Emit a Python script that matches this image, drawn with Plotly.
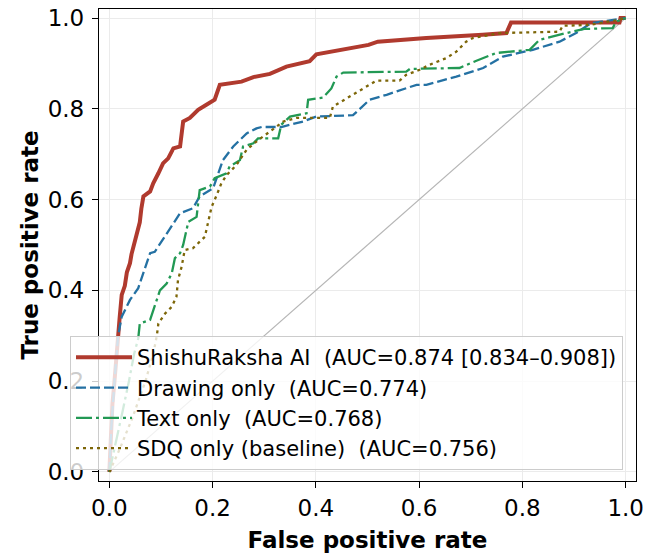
import plotly.graph_objects as go

# ---- data ----
ai_fpr = [0, 0.002, 0.004, 0.006, 0.010, 0.013, 0.017, 0.020, 0.024, 0.030, 0.034, 0.040, 0.043, 0.050,
          0.055, 0.059, 0.062, 0.066, 0.079, 0.085, 0.095, 0.104, 0.114, 0.124, 0.137, 0.143, 0.156,
          0.172, 0.188, 0.204, 0.214, 0.256, 0.279, 0.311, 0.343, 0.388, 0.401, 0.446, 0.502, 0.520,
          0.614, 0.723, 0.769, 0.778, 0.988, 0.990, 1.0]
ai_tpr = [0, 0.05, 0.10, 0.15, 0.20, 0.25, 0.29, 0.34, 0.39, 0.41, 0.44, 0.46, 0.48, 0.51,
          0.53, 0.55, 0.58, 0.607, 0.618, 0.636, 0.658, 0.68, 0.691, 0.713, 0.717, 0.772, 0.78,
          0.798, 0.809, 0.82, 0.853, 0.86, 0.87, 0.877, 0.893, 0.905, 0.92, 0.93, 0.941, 0.948,
          0.956, 0.963, 0.967, 0.99, 0.99, 1.0, 1.0]

draw_fpr = [0, 0.004, 0.010, 0.015, 0.017, 0.024, 0.040, 0.056, 0.079, 0.088, 0.111, 0.137, 0.162,
            0.175, 0.201, 0.220, 0.240, 0.266, 0.285, 0.295, 0.333, 0.375, 0.401, 0.472, 0.504,
            0.537, 0.595, 0.614, 0.672, 0.724, 0.762, 0.820, 0.872, 0.904, 0.933, 0.981, 1.0]
draw_tpr = [0, 0.10, 0.20, 0.27, 0.30, 0.342, 0.379, 0.405, 0.482, 0.485, 0.526, 0.57, 0.581,
            0.607, 0.625, 0.687, 0.717, 0.746, 0.757, 0.76, 0.76, 0.772, 0.783, 0.786, 0.82,
            0.831, 0.853, 0.853, 0.871, 0.89, 0.915, 0.93, 0.948, 0.967, 0.989, 0.996, 1.0]

text_fpr = [0, 0.012, 0.025, 0.038, 0.048, 0.056, 0.059, 0.079, 0.085, 0.098, 0.111, 0.121, 0.127,
            0.137, 0.143, 0.150, 0.153, 0.169, 0.172, 0.175, 0.195, 0.204, 0.227, 0.233, 0.253,
            0.259, 0.279, 0.288, 0.327, 0.333, 0.350, 0.382, 0.385, 0.414, 0.430, 0.440, 0.453,
            0.575, 0.582, 0.678, 0.711, 0.749, 0.814, 0.833, 0.885, 0.920, 0.975, 0.981, 1.0]
text_tpr = [0, 0.06, 0.13, 0.20, 0.26, 0.294, 0.327, 0.335, 0.357, 0.40, 0.415, 0.438, 0.471,
            0.482, 0.50, 0.533, 0.551, 0.562, 0.595, 0.621, 0.629, 0.647, 0.658, 0.673, 0.687,
            0.717, 0.724, 0.735, 0.735, 0.765, 0.783, 0.79, 0.82, 0.825, 0.845, 0.871, 0.88,
            0.882, 0.888, 0.89, 0.906, 0.923, 0.93, 0.952, 0.967, 0.976, 0.978, 0.992, 1.0]

sdq_fpr = [0, 0.020, 0.045, 0.070, 0.085, 0.092, 0.095, 0.108, 0.121, 0.130, 0.133, 0.140, 0.146,
           0.162, 0.185, 0.191, 0.198, 0.208, 0.217, 0.227, 0.246, 0.266, 0.288, 0.311, 0.337,
           0.362, 0.427, 0.433, 0.466, 0.498, 0.517, 0.562, 0.575, 0.601, 0.620, 0.653, 0.672,
           0.691, 0.704, 0.756, 0.872, 0.878, 0.930, 0.981, 1.0]
sdq_tpr = [0, 0.05, 0.12, 0.20, 0.26, 0.30, 0.327, 0.349, 0.364, 0.386, 0.423, 0.452, 0.489,
           0.493, 0.518, 0.548, 0.584, 0.61, 0.636, 0.654, 0.676, 0.71, 0.731, 0.75, 0.772,
           0.78, 0.78, 0.805, 0.827, 0.848, 0.862, 0.862, 0.875, 0.886, 0.897, 0.912, 0.926,
           0.948, 0.956, 0.967, 0.97, 0.983, 0.985, 0.995, 1.0]

chance = [0, 1]
labels = ["ShishuRaksha AI\u00a0 (AUC=0.874 [0.834–0.908])",
          "Drawing only\u00a0 (AUC=0.774)",
          "Text only\u00a0 (AUC=0.768)",
          "SDQ only (baseline)\u00a0 (AUC=0.756)"]
tick_vals = [0.0, 0.2, 0.4, 0.6, 0.8, 1.0]
tick_text = ["0.0", "0.2", "0.4", "0.6", "0.8", "1.0"]

FONT = "DejaVu Sans"

fig = go.Figure()
fig.add_trace(go.Scatter(x=chance, y=chance, mode="lines", showlegend=False,
                         line=dict(color="#b5b5b5", width=1.2), hoverinfo="skip"))

series = [
    (ai_fpr, ai_tpr, labels[0], dict(color="#b03a2e", width=4, dash="solid")),
    (draw_fpr, draw_tpr, labels[1], dict(color="#2471a3", width=2.3, dash="10px,4px")),
    (text_fpr, text_tpr, labels[2], dict(color="#229954", width=2.3, dash="16px,4px,3px,4px")),
    (sdq_fpr, sdq_tpr, labels[3], dict(color="#7d6608", width=2.3, dash="3px,4px")),
]
for i, (x, y, name, ln) in enumerate(series):
    fig.add_trace(go.Scatter(x=x, y=y, mode="lines", name=name, line=ln,
                             legendgroup=f"g{i}"))

axis_common = dict(
    range=[-0.02, 1.02], tickvals=tick_vals, ticktext=tick_text, automargin=False,
    showline=True, mirror=True, linecolor="black", linewidth=1.3,
    ticks="outside", ticklen=6, tickwidth=1.3, tickcolor="black",
    showgrid=True, gridcolor="#ebebeb", gridwidth=1, zeroline=False,
    tickfont=dict(family=FONT, size=23, color="black"), ticklabeloverflow="allow",
)

# the page body adds an 8px offset, so the figure is 8px smaller
fig.update_layout(
    width=647, height=545, autosize=False,
    margin=dict(l=91, r=19, t=1, b=72),
    plot_bgcolor="white", paper_bgcolor="white",
    font=dict(family=FONT, color="black"),
    xaxis=dict(**axis_common,
               title=dict(text="False positive rate", standoff=12,
                          font=dict(family=FONT, size=23, weight="bold", color="black"))),
    yaxis=dict(**axis_common, ticklabelstandoff=3,
               title=dict(text="True positive rate", standoff=2,
                          font=dict(family=FONT, size=23, weight="bold", color="black"))),
    legend=dict(x=-0.054, y=0.023, xanchor="left", yanchor="bottom",
                bgcolor="rgba(255,255,255,0.8)", bordercolor="#cccccc", borderwidth=1,
                font=dict(family=FONT, size=21, color="black"),
                tracegroupgap=0, itemwidth=56, entrywidth=492, entrywidthmode="pixels"),
)

fig.write_html("out.html")
